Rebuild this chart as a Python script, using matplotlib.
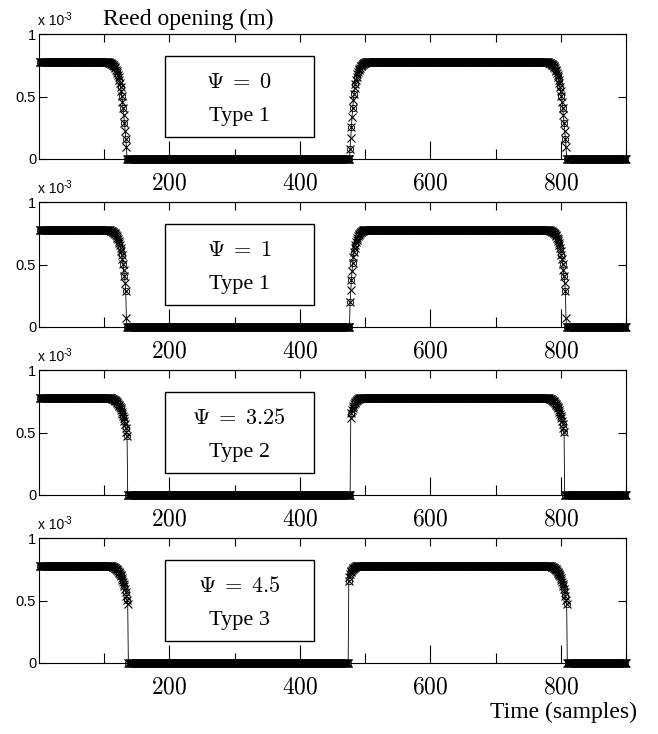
import matplotlib.pyplot as plt
from matplotlib.patches import Rectangle

plt.rcParams['mathtext.fontset'] = 'cm'
SERIF = 'Liberation Serif'
SANS = 'Liberation Sans'

# reed opening in units of 1e-3 m, samples 1..900
N_SAMPLES = 900
PLATEAU = 0.78

psi_labels = [r'$\Psi\;=\;0$', r'$\Psi\;=\;1$', r'$\Psi\;=\;3.25$', r'$\Psi\;=\;4.5$']
type_labels = ['Type 1', 'Type 1', 'Type 2', 'Type 3']

# closing edge, panel 1 (full drop to ~0.1)
fall_p1 = [0.780, 0.780, 0.779, 0.779, 0.778, 0.777, 0.776, 0.775, 0.773, 0.771,
           0.769, 0.766, 0.763, 0.759, 0.754, 0.749, 0.742, 0.735, 0.726, 0.716,
           0.704, 0.690, 0.674, 0.655, 0.633, 0.607, 0.577, 0.542, 0.502, 0.457,
           0.407, 0.352, 0.292, 0.228, 0.160, 0.100]
fall_p2 = [0.780, 0.780, 0.779, 0.779, 0.778, 0.777, 0.776, 0.775, 0.773, 0.771,
           0.769, 0.766, 0.763, 0.759, 0.754, 0.749, 0.742, 0.735, 0.726, 0.716,
           0.704, 0.690, 0.674, 0.655, 0.633, 0.607, 0.577, 0.542, 0.502, 0.457,
           0.407, 0.355, 0.290, 0.070]
# closing edge that stops halfway (types 2 and 3)
fall_p3 = [0.780, 0.780, 0.779, 0.779, 0.778, 0.777, 0.776, 0.775, 0.773, 0.771,
           0.769, 0.766, 0.763, 0.759, 0.755, 0.750, 0.745, 0.739, 0.732, 0.724,
           0.715, 0.705, 0.694, 0.681, 0.667, 0.651, 0.633, 0.613, 0.591, 0.566,
           0.538, 0.507, 0.475]
fall2_p3 = fall_p3[:-1]

rise_p1 = [0.08, 0.17, 0.26, 0.34, 0.41, 0.47, 0.52, 0.565, 0.60, 0.63,
           0.655, 0.677, 0.695, 0.71, 0.722, 0.732, 0.741, 0.748, 0.754, 0.759,
           0.763, 0.767, 0.77, 0.772, 0.774, 0.776, 0.777, 0.778, 0.779, 0.78]
rise_p2 = [0.20, 0.30, 0.38, 0.45, 0.51, 0.56, 0.60, 0.635, 0.66, 0.683,
           0.70, 0.715, 0.727, 0.737, 0.745, 0.752, 0.758, 0.763, 0.767, 0.77,
           0.773, 0.775, 0.777, 0.778, 0.779, 0.78]
rise_p3 = [0.62, 0.655, 0.68, 0.70, 0.715, 0.727, 0.737, 0.745, 0.752, 0.758,
           0.763, 0.767, 0.77, 0.773, 0.775, 0.777, 0.778, 0.779, 0.78]
rise_p4 = [0.66, 0.69, 0.71, 0.725, 0.737, 0.746, 0.753, 0.759, 0.764, 0.768,
           0.771, 0.774, 0.776, 0.778, 0.779, 0.78]

# (first fall start, fall, rise start, rise, second fall start, fall)
edges = [
    (99, fall_p1, 477, rise_p1, 773, fall_p1),
    (101, fall_p2, 477, rise_p2, 775, fall_p2),
    (103, fall_p3, 478, rise_p3, 774, fall2_p3),
    (104, fall_p3, 475, rise_p4, 777, fall_p3),
]


def build(f1s, f1, rs, r, f2s, f2):
    y = [PLATEAU] * (f1s - 1) + f1
    y += [0.0] * (rs - len(y) - 1) + r
    y += [PLATEAU] * (f2s - len(y) - 1) + f2
    y += [0.0] * (N_SAMPLES - len(y))
    return y


t = list(range(1, N_SAMPLES + 1))

fig = plt.figure(figsize=(6.58, 7.34), dpi=100)
tops = [34, 202, 370, 538]
for i in range(4):
    top = tops[i]
    ax = fig.add_axes([39 / 658, 1 - (top + 125) / 734, 587 / 658, 125 / 734])
    y = build(*edges[i])
    ax.plot(t, y, color='black', lw=0.6, marker='x', ms=5.5, mew=0.8, clip_on=False)
    ax.plot(t, y, ls='none', color='black', marker='o', ms=4.5, mfc='none',
            mew=0.6, markevery=2, clip_on=False)
    ax.set_xlim(0, 900)
    ax.set_ylim(0, 1)

    ax.set_xticks([200, 400, 600, 800])
    ax.set_xticklabels(['$200$', '$400$', '$600$', '$800$'], fontsize=17)
    ax.set_xticks([100, 300, 500, 700, 900], minor=True)
    ax.set_yticks([0, 0.5, 1])
    ax.set_yticklabels(['0', '0.5', '1'], family=SANS, fontsize=10.5)
    ax.tick_params(axis='x', which='major', direction='in', length=13, width=0.8, pad=8)
    ax.tick_params(axis='x', which='minor', direction='in', length=7, width=0.8)
    ax.tick_params(axis='y', direction='in', length=6, width=0.8, right=True, pad=2)
    top_ax = ax.secondary_xaxis('top')
    top_ax.set_xticks(list(range(100, 1000, 100)))
    top_ax.tick_params(direction='in', length=6, width=0.8, labeltop=False)
    for s in ax.spines.values():
        s.set_linewidth(0.8)
    top_ax.spines['top'].set_linewidth(0.8)

    ax.add_patch(Rectangle((0.215, 0.176), 0.253, 0.648, transform=ax.transAxes,
                           facecolor='white', edgecolor='black', lw=1.0, zorder=3))
    ax.text(0.341, 0.616, psi_labels[i], transform=ax.transAxes, fontsize=16,
            ha='center', va='center', zorder=4)
    ax.text(0.341, 0.344, type_labels[i], transform=ax.transAxes, family=SERIF,
            fontsize=16, ha='center', va='center', zorder=4)

    ax.text(-0.002, 1.072, 'x 10', transform=ax.transAxes, family=SANS,
            fontsize=10, ha='left', va='baseline')
    ax.text(0.042, 1.11, '-3', transform=ax.transAxes, family=SANS,
            fontsize=7, ha='left', va='baseline')

fig.text(103 / 658, 1 - 25 / 734, 'Reed opening (m)', family=SERIF, fontsize=17,
         ha='left', va='baseline')
fig.text(637 / 658, 1 - 718 / 734, 'Time (samples)', family=SERIF, fontsize=17,
         ha='right', va='baseline')

fig.savefig('out.png', dpi=100)
